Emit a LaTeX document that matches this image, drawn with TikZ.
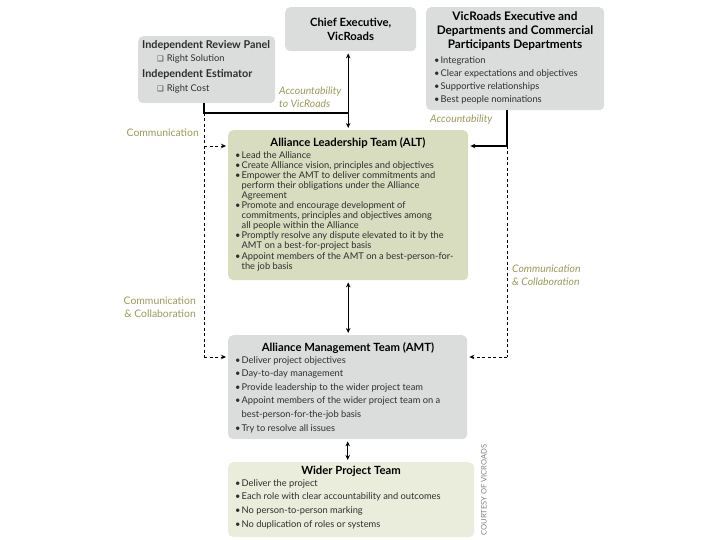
\documentclass[tikz,border=0pt]{standalone}
\usepackage{fontspec}
\setmainfont{Lato}
\newfontfamily\symfont{DejaVu Sans}
\usetikzlibrary{arrows.meta,positioning}

\definecolor{boxgray}{HTML}{DBDDDC}
\definecolor{altgreen}{HTML}{D8DDBF}
\definecolor{widergreen}{HTML}{EBEDDC}
\definecolor{labelolive}{HTML}{9A9A58}
\definecolor{bodytext}{HTML}{2E2E2E}

\newcommand{\bul}{\makebox[6.5pt][l]{\textbullet}}
\newcommand{\ind}{\hspace*{6.5pt}}
\newcommand{\chk}{\hspace*{15pt}{\symfont\fontsize{7.5}{7}\selectfont ❑}\hspace{3pt}}

\begin{document}
\begin{tikzpicture}[x=1pt,y=-1pt,
    box/.style={rectangle, rounded corners=5pt, anchor=north west, inner sep=0pt},
    ttl/.style={font=\fontsize{11.3}{14}\selectfont\bfseries, inner sep=0pt, align=center, anchor=north},
    lst/.style={font=\fontsize{9.3}{10.1}\selectfont, text=bodytext, inner sep=0pt, align=left, anchor=north west},
    lbl/.style={font=\fontsize{10.4}{13}\selectfont, text=labelolive, inner sep=0pt},
    thickline/.style={line width=1.4pt},
    dashline/.style={line width=0.9pt, dash pattern=on 3pt off 2.5pt},
    tip/.style={-{Stealth[length=5pt,width=4.5pt]}, shorten >=2pt},
    twoway/.style={line width=1pt, {Stealth[length=5pt,width=4.5pt]}-{Stealth[length=5pt,width=4.5pt]}, shorten >=2pt, shorten <=2pt}]

  \useasboundingbox (0,0) rectangle (720,540);

  % ==================================================
  % Top row: review panel, chief executive, executive
  % ==================================================
  % -- Independent review panel / estimator
  \node[box, fill=boxgray, minimum width=137, minimum height=67] (indep) at (138,36) {};
  \node[lst, font=\fontsize{9.3}{13.5}\selectfont] (indeptxt) at (142,40)
    {{\fontsize{10.8}{10}\selectfont\bfseries Independent Review Panel}\\
     \chk Right Solution\\[2.5pt]
     {\fontsize{10.8}{10}\selectfont\bfseries Independent Estimator}\\
     \chk Right Cost};

  % -- Chief executive
  \node[box, fill=boxgray, minimum width=131, minimum height=44] (chief) at (285,7) {};
  \node[ttl, anchor=center] (chieftxt) at (chief.center) {Chief Executive,\\VicRoads};

  % -- VicRoads executive and departments
  \node[box, fill=boxgray, minimum width=178, minimum height=103] (vicexec) at (426,7) {};
  \node[ttl, font=\fontsize{11.8}{14}\selectfont\bfseries] (victtl) at (515,12)
    {VicRoads Executive and\\Departments and Commercial\\Participants Departments};
  \node[lst, font=\fontsize{9.3}{13}\selectfont] (viclst) at (434,56)
    {\bul Integration\\
     \bul Clear expectations and objectives\\
     \bul Supportive relationships\\
     \bul Best people nominations};

  % ==================================================
  % Alliance Leadership Team
  % ==================================================
  \node[box, fill=altgreen, minimum width=240, minimum height=150] (alt) at (228,130) {};
  \node[ttl] (altttl) at (348,137.5) {Alliance Leadership Team (ALT)};
  \node[lst] (altlst) at (235,151)
    {\bul Lead the Alliance\\
     \bul Create Alliance vision, principles and objectives\\
     \bul Empower the AMT to deliver commitments and\\
     \ind perform their obligations under the Alliance\\
     \ind Agreement\\
     \bul Promote and encourage development of\\
     \ind commitments, principles and objectives among\\
     \ind all people within the Alliance\\
     \bul Promptly resolve any dispute elevated to it by the\\
     \ind AMT on a best-for-project basis\\
     \bul Appoint members of the AMT on a best-person-for-\\
     \ind the job basis};

  % ==================================================
  % Alliance Management Team
  % ==================================================
  \node[box, fill=boxgray, minimum width=239, minimum height=104] (amt) at (228,335) {};
  \node[ttl] (amtttl) at (348,342.5) {Alliance Management Team (AMT)};
  \node[lst, font=\fontsize{9.3}{13.6}\selectfont] (amtlst) at (235,356)
    {\bul Deliver project objectives\\
     \bul Day-to-day management\\
     \bul Provide leadership to the wider project team\\
     \bul Appoint members of the wider project team on a\\
     \ind best-person-for-the-job basis\\
     \bul Try to resolve all issues};

  % ==================================================
  % Wider project team
  % ==================================================
  \node[box, fill=widergreen, minimum width=246, minimum height=75] (wider) at (228,462) {};
  \node[ttl] (widerttl) at (351,465.5) {Wider Project Team};
  \node[lst, font=\fontsize{9.3}{13.7}\selectfont] (widerlst) at (235,479)
    {\bul Deliver the project\\
     \bul Each role with clear accountability and outcomes\\
     \bul No person-to-person marking\\
     \bul No duplication of roles or systems};

  % ==================================================
  % Connectors
  % ==================================================
  \coordinate (commleft) at (204,113);   % corner under the review panel
  \coordinate (accright) at (507,146);   % corner under the executive box
  \coordinate (commlow) at (204,357);
  \coordinate (commlowr) at (507,357);

  % -- accountability lines (solid)
  \draw[thickline] (indep.south -| commleft) -- (commleft) -- (commleft -| alt.north);
  \draw[twoway] (chief.south -| alt.north) -- (alt.north);
  \draw[thickline] (vicexec.south -| accright) -- (accright);
  \draw[thickline, tip] (accright) -- (accright -| alt.east);

  % -- communication lines (dashed)
  \draw[dashline] (commleft) -- (commlow);
  \draw[dashline, tip] (commleft |- accright) -- (alt.west |- accright);
  \draw[dashline, tip] (commlow) -- (commlow -| amt.west);
  \draw[dashline] (accright) -- (commlowr);
  \draw[dashline, tip] (commlowr) -- (commlowr -| amt.east);

  % -- team to team
  \draw[twoway] (alt.south) -- (alt.south |- amt.north);
  \draw[twoway] (amt.south) -- (amt.south |- wider.north);

  % ==================================================
  % Labels
  % ==================================================
  \node[lbl, anchor=west, align=left, font=\fontsize{10.4}{13}\selectfont\itshape] (acclbl) at (279,97)
    {Accountability\\to VicRoads};
  \node[lbl, anchor=west, font=\fontsize{10.4}{13}\selectfont\itshape] (accrlbl) at (430,120) {Accountability};
  \node[lbl, anchor=east] (commlbl) at (199,133) {Communication};
  \node[lbl, anchor=east, align=right] (collbl) at (196,307)
    {Communication\\\& Collaboration};
  \node[lbl, anchor=west, align=left, font=\fontsize{10.4}{13}\selectfont\itshape] (colrlbl) at (512,275)
    {Communication\\\& Collaboration};
  \node[rotate=90, font=\fontsize{7.6}{8}\selectfont, text=gray, inner sep=0pt] (credit) at (484,490)
    {COURTESY OF VICROADS};
\end{tikzpicture}
\end{document}
